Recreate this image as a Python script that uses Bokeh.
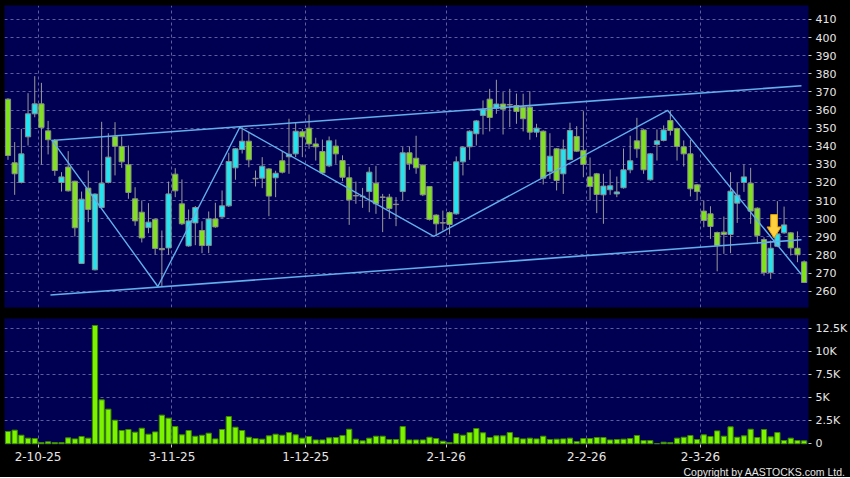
from bokeh.plotting import figure
from bokeh.layouts import column
from bokeh.models import ColumnDataSource, Range1d, FixedTicker, Grid, Title
from bokeh.embed import file_html
from bokeh.resources import INLINE

# ---------------- data ----------------
date_labels = ["2-10-25", "3-11-25", "1-12-25", "2-1-26", "2-2-26", "2-3-26"]
date_index = [4, 24, 44, 65, 86, 103]
price_ticks = [260, 270, 280, 290, 300, 310, 320, 330, 340, 350, 360, 370, 380, 390, 400, 410]
vol_ticks = [0, 2500, 5000, 7500, 10000, 12500]
vol_tick_labels = ["0", "2.5K", "5K", "7.5K", "10K", "12.5K"]
credit_text = "Copyright by AASTOCKS.com Ltd."

opens = [366.0, 330.9, 320.0, 345.2, 357.9, 363.4, 348.5, 343.2, 320.0, 328.5,
         320.7, 275.3, 316.9, 271.8, 306.2, 320.0, 345.4, 339.9, 329.8, 311.0,
         303.6, 295.1, 299.7, 283.6, 283.9, 324.6, 308.2, 285.0, 297.7, 293.5,
         285.2, 299.9, 301.0, 307.1, 328.1, 338.2, 342.8, 322.3, 322.4, 327.5,
         322.6, 332.0, 334.2, 335.8, 348.0, 350.0, 341.3, 337.1, 329.2, 340.1,
         332.1, 322.6, 312.8, 312.4, 315.0, 319.6, 312.0, 311.9, 308.0, 315.0,
         336.4, 333.4, 329.6, 317.8, 302.0, 297.8, 303.4, 302.7, 331.4, 339.7,
         346.9, 357.0, 366.0, 361.0, 363.3, 363.0, 362.5, 361.6, 361.6, 347.8,
         348.3, 326.1, 338.6, 324.8, 332.7, 345.4, 337.7, 323.1, 324.8, 313.2,
         316.0, 313.7, 317.1, 327.0, 343.0, 349.0, 321.5, 341.0, 343.2, 354.2,
         349.8, 339.7, 335.8, 318.7, 304.2, 302.7, 292.4, 292.6, 291.3, 308.6,
         320.0, 319.6, 305.8, 288.5, 270.3, 284.8, 292.2, 292.2, 283.7, 276.2]
highs = [366.5, 342.3, 349.6, 369.3, 378.7, 375.0, 354.0, 344.0, 325.7, 337.3,
         321.0, 315.0, 326.6, 314.0, 353.5, 347.2, 353.3, 345.4, 340.4, 317.4,
         310.1, 308.6, 300.0, 293.5, 320.5, 327.9, 321.7, 305.1, 307.0, 298.6,
         304.0, 308.8, 315.6, 336.4, 339.0, 350.5, 348.0, 326.6, 334.0, 328.0,
         326.5, 337.3, 355.2, 353.3, 349.5, 357.5, 344.7, 343.7, 345.4, 343.7,
         335.0, 328.8, 320.5, 317.0, 328.5, 329.2, 313.7, 313.7, 311.9, 339.5,
         339.9, 345.8, 330.0, 318.0, 302.5, 304.5, 304.0, 334.4, 340.0, 348.8,
         354.5, 365.3, 371.7, 376.7, 369.9, 371.7, 369.1, 369.0, 370.4, 352.4,
         348.8, 347.2, 339.0, 343.7, 353.0, 351.1, 359.4, 333.8, 325.3, 324.8,
         327.2, 323.3, 338.8, 345.8, 355.7, 349.5, 336.3, 349.3, 351.5, 359.8,
         350.3, 343.2, 343.6, 319.2, 310.1, 306.9, 292.9, 301.2, 325.7, 320.0,
         329.8, 328.1, 306.3, 289.8, 288.0, 309.7, 306.7, 292.7, 293.0, 277.0]
lows = [332.5, 313.2, 319.5, 340.4, 356.0, 329.8, 335.5, 323.7, 315.0, 315.0,
        290.2, 275.0, 298.1, 271.5, 305.5, 319.5, 323.9, 328.1, 311.0, 296.1,
        286.9, 292.0, 280.1, 262.7, 280.0, 311.9, 296.5, 284.5, 285.4, 281.0,
        281.0, 295.0, 300.5, 306.5, 321.5, 336.0, 328.4, 317.8, 316.9, 301.4,
        311.9, 325.0, 324.8, 334.0, 334.0, 338.6, 332.1, 324.4, 328.5, 330.3,
        320.7, 296.6, 308.2, 306.0, 303.6, 302.7, 292.6, 300.0, 295.9, 310.1,
        327.0, 324.8, 312.5, 299.0, 290.7, 293.5, 291.3, 302.2, 323.9, 332.5,
        340.4, 346.5, 348.2, 357.9, 346.5, 350.6, 352.4, 348.2, 343.6, 345.0,
        318.9, 322.0, 315.6, 313.7, 332.2, 336.8, 322.9, 310.1, 303.1, 297.2,
        313.2, 311.9, 316.6, 325.1, 333.6, 324.8, 321.0, 332.1, 342.7, 346.0,
        332.1, 328.8, 312.3, 310.1, 295.3, 288.9, 271.0, 280.6, 281.0, 297.7,
        314.8, 297.2, 286.1, 268.6, 266.8, 284.3, 291.7, 279.7, 276.0, 264.5]
closes = [334.9, 324.8, 335.8, 357.9, 363.4, 350.4, 343.6, 326.6, 323.1, 315.4,
          295.0, 310.8, 305.1, 313.6, 319.6, 334.0, 340.0, 331.4, 314.5, 298.8,
          289.4, 298.1, 283.6, 282.9, 313.7, 315.4, 297.2, 298.8, 306.2, 285.2,
          299.9, 295.5, 307.1, 331.6, 338.6, 342.8, 332.5, 322.0, 329.0, 312.5,
          325.1, 325.7, 335.6, 348.3, 345.2, 341.3, 339.7, 325.3, 343.0, 335.8,
          322.9, 310.4, 312.6, 312.2, 325.7, 308.2, 311.8, 305.6, 307.8, 336.4,
          330.3, 328.1, 313.2, 299.6, 297.2, 297.6, 296.8, 331.4, 339.5, 348.3,
          354.0, 360.3, 355.9, 363.3, 360.5, 362.8, 359.2, 355.2, 347.8, 350.0,
          322.4, 334.5, 321.1, 338.4, 348.7, 337.3, 330.0, 317.8, 313.4, 318.0,
          318.2, 314.8, 327.0, 332.0, 338.6, 327.0, 335.8, 343.0, 349.0, 348.7,
          339.9, 335.8, 316.5, 315.0, 299.0, 295.7, 285.2, 291.3, 315.2, 313.0,
          323.1, 304.2, 290.7, 270.3, 283.7, 291.6, 296.6, 283.9, 280.1, 264.8]
volumes = [1340, 1490, 940, 620, 580, 140, 220, 140, 140, 650,
           540, 800, 620, 12860, 4780, 3770, 2570, 1450, 1560, 1270,
           1700, 1050, 1300, 3120, 2790, 1880, 980, 1450, 830, 940,
           1160, 540, 1560, 2970, 1810, 1450, 720, 580, 510, 870,
           1050, 940, 1230, 980, 620, 800, 430, 430, 650, 690,
           910, 1590, 510, 330, 620, 830, 830, 470, 470, 1880,
           430, 430, 430, 720, 580, 290, 150, 1120, 940, 1230,
           1670, 1200, 690, 870, 870, 1230, 690, 540, 620, 540,
           830, 470, 510, 540, 620, 250, 580, 580, 690, 690,
           430, 470, 510, 580, 910, 360, 360, 20, 180, 140,
           620, 720, 910, 470, 980, 800, 1410, 830, 1850, 720,
           870, 1590, 690, 1560, 760, 1230, 360, 620, 360, 330]

# drawn trend lines (index, price)
upper_x = [6.46, 118.6]
upper_y = [343.2, 373.4]
lower_x = [6.35, 118.6]
lower_y = [257.9, 288.4]
zig_x = [6.65, 22.4, 34.65, 63.65, 98.6, 118.6]
zig_y = [343.0, 262.6, 350.5, 290.2, 359.8, 269.2]
signal_x = 114.5
signal_top = 302.3
signal_tip = 289.4

# ---------------- styles ----------------
NAVY = "#000052"
GREEN = "#80E21E"
CYAN = "#22E4F0"
GRID = "#5E5E9E"
LINE = "#62AEEC"
TXT = "#E6E6E6"
FONT = "DejaVu Sans"

n = len(opens)
xs = list(range(n))
src = ColumnDataSource(dict(
    x=xs,
    top=[max(o, c) for o, c in zip(opens, closes)],
    bottom=[min(o, c) for o, c in zip(opens, closes)],
    high=highs, low=lows,
    color=[CYAN if c >= o else GREEN for o, c in zip(opens, closes)],
))
vsrc = ColumnDataSource(dict(x=xs, vol=volumes))

grid_pos = [i + 0.5 for i in date_index]
xr = Range1d(-0.52, 119.65)
vr = Range1d(-70, 13620)


def style_axis(ax, size="11px"):
    ax.axis_line_color = None
    ax.major_tick_line_color = "#C8C8C8"
    ax.major_tick_in = 0
    ax.major_tick_out = 3
    ax.minor_tick_line_color = None
    ax.major_label_text_color = TXT
    ax.major_label_text_font = FONT
    ax.major_label_text_font_size = size
    ax.major_label_standoff = 4


def add_grids(fig, yticks):
    fig.grid.visible = False
    fig.add_layout(Grid(dimension=0, ticker=FixedTicker(ticks=grid_pos),
                        grid_line_color=GRID, grid_line_dash="3 3", grid_line_width=1))
    fig.add_layout(Grid(dimension=1, ticker=FixedTicker(ticks=yticks),
                        grid_line_color=GRID, grid_line_dash="3 3", grid_line_width=1))


# ---------------- price panel ----------------
p = figure(frame_width=804, frame_height=302, x_range=xr, y_range=Range1d(251, 417.7),
           x_axis_location=None, y_axis_location="right",
           output_backend="svg", toolbar_location=None,
           background_fill_color=NAVY, border_fill_color="black", outline_line_color=None,
           min_border_left=4, min_border_top=5, min_border_bottom=5, min_border_right=42)
add_grids(p, price_ticks)
p.yaxis.ticker = FixedTicker(ticks=price_ticks)
style_axis(p.yaxis[0])

p.segment(x0="x", y0="low", x1="x", y1="high", source=src, line_color="#9A9A9A", line_width=1)
p.vbar(x="x", top="top", bottom="bottom", width=0.78, source=src,
       fill_color="color", line_color="#8C8C8C", line_width=1)

p.line(upper_x, upper_y, line_color=LINE, line_width=1.6)
p.line(lower_x, lower_y, line_color=LINE, line_width=1.6)
p.line(zig_x, zig_y, line_color=LINE, line_width=1.4)

shaft, head = 0.5, 1.05
head_base = signal_tip + (signal_top - signal_tip) * 0.47
ax_ = [signal_x - shaft, signal_x + shaft, signal_x + shaft, signal_x + head,
       signal_x, signal_x - head, signal_x - shaft]
ay_ = [signal_top, signal_top, head_base, head_base, signal_tip, head_base, head_base]
p.patch(ax_, ay_, fill_color="#FFD040", line_color="#E0A000", line_width=1)

# ---------------- volume panel ----------------
p2 = figure(frame_width=804, frame_height=126, x_range=xr, y_range=vr,
            y_axis_location="right",
            output_backend="svg", toolbar_location=None,
            background_fill_color=NAVY, border_fill_color="black", outline_line_color=None,
            min_border_left=4, min_border_top=6, min_border_bottom=0, min_border_right=42)
add_grids(p2, vol_ticks[1:])
p2.vbar(x="x", top="vol", bottom=0, width=0.78, source=vsrc,
        fill_color="#7CF400", line_color="#3E8A00", line_width=1)

p2.yaxis.ticker = FixedTicker(ticks=vol_ticks)
p2.yaxis.major_label_overrides = {t: l for t, l in zip(vol_ticks, vol_tick_labels)}
style_axis(p2.yaxis[0])
p2.xaxis.ticker = FixedTicker(ticks=grid_pos)
p2.xaxis.major_label_overrides = {t: l for t, l in zip(grid_pos, date_labels)}
style_axis(p2.xaxis[0], "12px")

p2.add_layout(Title(text=credit_text, align="right", offset=-37, standoff=0,
                    text_color=TXT, text_font="Liberation Sans", text_font_size="10.5px",
                    text_font_style="normal"), "below")

layout = column(p, p2, spacing=0, styles={"background-color": "black"})

open("out.html", "w").write(file_html(layout, INLINE))
